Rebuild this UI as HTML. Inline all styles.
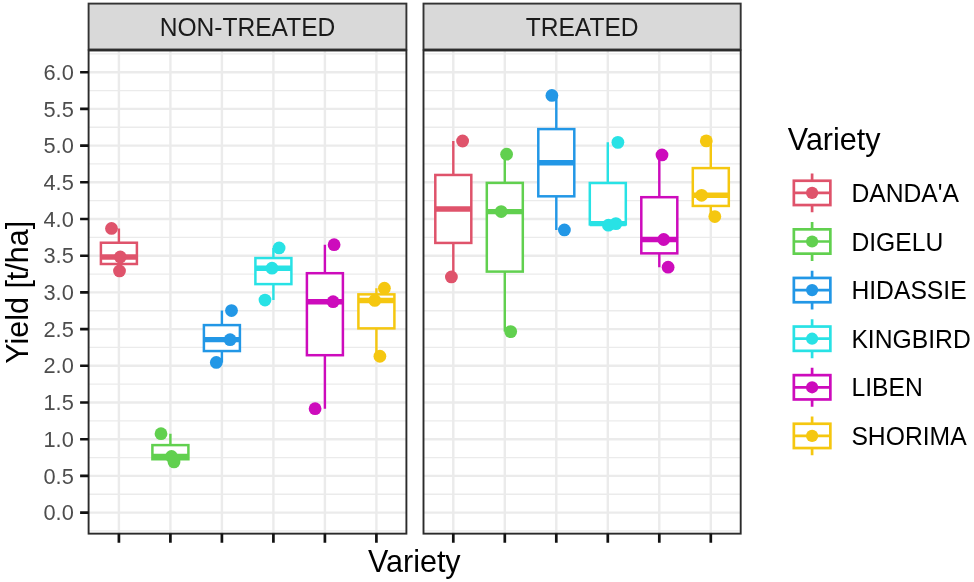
<!DOCTYPE html>
<html><head><meta charset="utf-8"><title>Yield boxplot</title>
<style>html,body{margin:0;padding:0;background:#fff;}body{width:974px;height:582px;overflow:hidden;font-family:"Liberation Sans",sans-serif;}svg{display:block;will-change:transform;}</style>
</head><body>
<svg width="974" height="582" viewBox="0 0 974 582">
<rect x="0" y="0" width="974" height="582" fill="#ffffff"/>
<rect x="88.6" y="3.6" width="317.8" height="45.9" fill="#d9d9d9" stroke="#333333" stroke-width="1.9"/>
<rect x="88.6" y="50.5" width="317.8" height="483.15" fill="#ffffff"/>
<path d="M88.6 530.95H406.4M88.6 494.25H406.4M88.6 457.55H406.4M88.6 420.85H406.4M88.6 384.15H406.4M88.6 347.45H406.4M88.6 310.75H406.4M88.6 274.05H406.4M88.6 237.35H406.4M88.6 200.65H406.4M88.6 163.95H406.4M88.6 127.25H406.4M88.6 90.55H406.4M88.6 53.85H406.4" stroke="#ebebeb" stroke-width="1.3" fill="none"/>
<path d="M88.6 512.6H406.4M88.6 475.9H406.4M88.6 439.2H406.4M88.6 402.5H406.4M88.6 365.8H406.4M88.6 329.1H406.4M88.6 292.4H406.4M88.6 255.7H406.4M88.6 219H406.4M88.6 182.3H406.4M88.6 145.6H406.4M88.6 108.9H406.4M88.6 72.2H406.4M118.9 50.5V533.65M170.4 50.5V533.65M221.9 50.5V533.65M273.4 50.5V533.65M324.9 50.5V533.65M376.4 50.5V533.65" stroke="#ebebeb" stroke-width="2.4" fill="none"/>
<g stroke="#DF536B" fill="none">
<path d="M118.9 228.47V242.74M118.9 263.99V270.97" stroke-width="2.4"/>
<rect x="100.9" y="242.74" width="36" height="21.25" fill="#ffffff" stroke-width="2.5"/>
<path d="M100.9 257.02H136.9" stroke-width="5.4"/>
</g>
<g stroke="#61D04F" fill="none">
<path d="M170.4 433.7V445.11M170.4 459.24V461.95" stroke-width="2.4"/>
<rect x="152.4" y="445.11" width="36" height="14.13" fill="#ffffff" stroke-width="2.5"/>
<path d="M152.4 456.52H188.4" stroke-width="5.4"/>
</g>
<g stroke="#2297E6" fill="none">
<path d="M221.9 310.53V325.1M221.9 351.05V362.42" stroke-width="2.4"/>
<rect x="203.9" y="325.1" width="36" height="25.95" fill="#ffffff" stroke-width="2.5"/>
<path d="M203.9 339.67H239.9" stroke-width="5.4"/>
</g>
<g stroke="#28E2E5" fill="none">
<path d="M273.4 247.92V258.05M273.4 284.11V300.03" stroke-width="2.4"/>
<rect x="255.4" y="258.05" width="36" height="26.06" fill="#ffffff" stroke-width="2.5"/>
<path d="M255.4 268.18H291.4" stroke-width="5.4"/>
</g>
<g stroke="#CD0BBC" fill="none">
<path d="M324.9 244.69V273.21M324.9 355.19V408.67" stroke-width="2.4"/>
<rect x="306.9" y="273.21" width="36" height="81.99" fill="#ffffff" stroke-width="2.5"/>
<path d="M306.9 301.72H342.9" stroke-width="5.4"/>
</g>
<g stroke="#F5C710" fill="none">
<path d="M376.4 288.22V294.35M376.4 328.37V356.26" stroke-width="2.4"/>
<rect x="358.4" y="294.35" width="36" height="34.02" fill="#ffffff" stroke-width="2.5"/>
<path d="M358.4 300.47H394.4" stroke-width="5.4"/>
</g>
<circle cx="111.5" cy="228.47" r="6.4" fill="#DF536B"/>
<circle cx="120.3" cy="257.02" r="6.4" fill="#DF536B"/>
<circle cx="119.5" cy="270.97" r="6.4" fill="#DF536B"/>
<circle cx="161" cy="433.7" r="6.4" fill="#61D04F"/>
<circle cx="171.5" cy="456.52" r="6.4" fill="#61D04F"/>
<circle cx="174" cy="461.95" r="6.4" fill="#61D04F"/>
<circle cx="231.5" cy="310.53" r="6.4" fill="#2297E6"/>
<circle cx="230.1" cy="339.67" r="6.4" fill="#2297E6"/>
<circle cx="216.3" cy="362.42" r="6.4" fill="#2297E6"/>
<circle cx="279.1" cy="247.92" r="6.4" fill="#28E2E5"/>
<circle cx="272" cy="268.18" r="6.4" fill="#28E2E5"/>
<circle cx="265" cy="300.03" r="6.4" fill="#28E2E5"/>
<circle cx="334.1" cy="244.69" r="6.4" fill="#CD0BBC"/>
<circle cx="333.1" cy="301.72" r="6.4" fill="#CD0BBC"/>
<circle cx="315.1" cy="408.67" r="6.4" fill="#CD0BBC"/>
<circle cx="384.4" cy="288.22" r="6.4" fill="#F5C710"/>
<circle cx="374.8" cy="300.47" r="6.4" fill="#F5C710"/>
<circle cx="379.9" cy="356.26" r="6.4" fill="#F5C710"/>
<rect x="88.6" y="50.5" width="317.8" height="483.15" fill="none" stroke="#2b2b2b" stroke-width="1.9"/>
<path d="M118.9 533.65V542.65M170.4 533.65V542.65M221.9 533.65V542.65M273.4 533.65V542.65M324.9 533.65V542.65M376.4 533.65V542.65" stroke="#111111" stroke-width="2.7" fill="none"/>
<rect x="423.5" y="3.6" width="317.2" height="45.9" fill="#d9d9d9" stroke="#333333" stroke-width="1.9"/>
<rect x="423.5" y="50.5" width="317.2" height="483.15" fill="#ffffff"/>
<path d="M423.5 530.95H740.7M423.5 494.25H740.7M423.5 457.55H740.7M423.5 420.85H740.7M423.5 384.15H740.7M423.5 347.45H740.7M423.5 310.75H740.7M423.5 274.05H740.7M423.5 237.35H740.7M423.5 200.65H740.7M423.5 163.95H740.7M423.5 127.25H740.7M423.5 90.55H740.7M423.5 53.85H740.7" stroke="#ebebeb" stroke-width="1.3" fill="none"/>
<path d="M423.5 512.6H740.7M423.5 475.9H740.7M423.5 439.2H740.7M423.5 402.5H740.7M423.5 365.8H740.7M423.5 329.1H740.7M423.5 292.4H740.7M423.5 255.7H740.7M423.5 219H740.7M423.5 182.3H740.7M423.5 145.6H740.7M423.5 108.9H740.7M423.5 72.2H740.7M453.3 50.5V533.65M504.8 50.5V533.65M556.3 50.5V533.65M607.8 50.5V533.65M659.3 50.5V533.65M710.8 50.5V533.65" stroke="#ebebeb" stroke-width="2.4" fill="none"/>
<g stroke="#DF536B" fill="none">
<path d="M453.3 140.98V174.96M453.3 242.93V276.91" stroke-width="2.4"/>
<rect x="435.3" y="174.96" width="36" height="67.97" fill="#ffffff" stroke-width="2.5"/>
<path d="M435.3 208.94H471.3" stroke-width="5.4"/>
</g>
<g stroke="#61D04F" fill="none">
<path d="M504.8 154.19V182.89M504.8 271.59V331.6" stroke-width="2.4"/>
<rect x="486.8" y="182.89" width="36" height="88.7" fill="#ffffff" stroke-width="2.5"/>
<path d="M486.8 211.59H522.8" stroke-width="5.4"/>
</g>
<g stroke="#2297E6" fill="none">
<path d="M556.3 95.47V129.09M556.3 196.32V229.94" stroke-width="2.4"/>
<rect x="538.3" y="129.09" width="36" height="67.23" fill="#ffffff" stroke-width="2.5"/>
<path d="M538.3 162.7H574.3" stroke-width="5.4"/>
</g>
<g stroke="#28E2E5" fill="none">
<path d="M607.8 142.37V183M607.8 224.39V225.17" stroke-width="2.4"/>
<rect x="589.8" y="183" width="36" height="41.4" fill="#ffffff" stroke-width="2.5"/>
<path d="M589.8 223.62H625.8" stroke-width="5.4"/>
</g>
<g stroke="#CD0BBC" fill="none">
<path d="M659.3 154.92V197.2M659.3 253.35V267.22" stroke-width="2.4"/>
<rect x="641.3" y="197.2" width="36" height="56.15" fill="#ffffff" stroke-width="2.5"/>
<path d="M641.3 239.48H677.3" stroke-width="5.4"/>
</g>
<g stroke="#F5C710" fill="none">
<path d="M710.8 140.9V168.1M710.8 205.93V216.58" stroke-width="2.4"/>
<rect x="692.8" y="168.1" width="36" height="37.84" fill="#ffffff" stroke-width="2.5"/>
<path d="M692.8 195.29H728.8" stroke-width="5.4"/>
</g>
<circle cx="462.6" cy="140.98" r="6.4" fill="#DF536B"/>
<circle cx="451.4" cy="276.91" r="6.4" fill="#DF536B"/>
<circle cx="506.6" cy="154.19" r="6.4" fill="#61D04F"/>
<circle cx="501.2" cy="211.59" r="6.4" fill="#61D04F"/>
<circle cx="510.7" cy="331.6" r="6.4" fill="#61D04F"/>
<circle cx="551.9" cy="95.47" r="6.4" fill="#2297E6"/>
<circle cx="564.4" cy="229.94" r="6.4" fill="#2297E6"/>
<circle cx="617.9" cy="142.37" r="6.4" fill="#28E2E5"/>
<circle cx="608.4" cy="225.17" r="6.4" fill="#28E2E5"/>
<circle cx="615.9" cy="223.62" r="6.4" fill="#28E2E5"/>
<circle cx="662" cy="154.92" r="6.4" fill="#CD0BBC"/>
<circle cx="663.7" cy="239.48" r="6.4" fill="#CD0BBC"/>
<circle cx="668.1" cy="267.22" r="6.4" fill="#CD0BBC"/>
<circle cx="706.3" cy="140.9" r="6.4" fill="#F5C710"/>
<circle cx="701.6" cy="195.29" r="6.4" fill="#F5C710"/>
<circle cx="714.8" cy="216.58" r="6.4" fill="#F5C710"/>
<rect x="423.5" y="50.5" width="317.2" height="483.15" fill="none" stroke="#2b2b2b" stroke-width="1.9"/>
<path d="M453.3 533.65V542.65M504.8 533.65V542.65M556.3 533.65V542.65M607.8 533.65V542.65M659.3 533.65V542.65M710.8 533.65V542.65" stroke="#111111" stroke-width="2.7" fill="none"/>
<path d="M80.1 512.6H88.6M80.1 475.9H88.6M80.1 439.2H88.6M80.1 402.5H88.6M80.1 365.8H88.6M80.1 329.1H88.6M80.1 292.4H88.6M80.1 255.7H88.6M80.1 219H88.6M80.1 182.3H88.6M80.1 145.6H88.6M80.1 108.9H88.6M80.1 72.2H88.6" stroke="#111111" stroke-width="2.6" fill="none"/>
<g font-family="Liberation Sans, sans-serif" font-size="21.8" fill="#4d4d4d" text-anchor="end">
<text transform="translate(73.8 520.2)">0.0</text>
<text transform="translate(73.8 483.5)">0.5</text>
<text transform="translate(73.8 446.8)">1.0</text>
<text transform="translate(73.8 410.1)">1.5</text>
<text transform="translate(73.8 373.4)">2.0</text>
<text transform="translate(73.8 336.7)">2.5</text>
<text transform="translate(73.8 300)">3.0</text>
<text transform="translate(73.8 263.3)">3.5</text>
<text transform="translate(73.8 226.6)">4.0</text>
<text transform="translate(73.8 189.9)">4.5</text>
<text transform="translate(73.8 153.2)">5.0</text>
<text transform="translate(73.8 116.5)">5.5</text>
<text transform="translate(73.8 79.8)">6.0</text>
</g>
<g font-family="Liberation Sans, sans-serif" font-size="24.6" fill="#1a1a1a" text-anchor="middle">
<text transform="translate(247.5 35.6) scale(1 1.04)">NON-TREATED</text>
<text transform="translate(582.1 35.6) scale(1 1.04)">TREATED</text>
</g>
<g font-family="Liberation Sans, sans-serif" font-size="30.5" fill="#000000">
<text x="414.3" y="572.2" text-anchor="middle">Variety</text>
<text transform="translate(28.2 292.3) rotate(-90)" text-anchor="middle">Yield [t/ha]</text>
<text x="787.8" y="150.4">Variety</text>
</g>
<g font-family="Liberation Sans, sans-serif" font-size="24.7" fill="#000000">
<text transform="translate(851.4 201.9) scale(1 1.045)">DANDA&#39;A</text>
<text transform="translate(851.4 250.5) scale(1 1.045)">DIGELU</text>
<text transform="translate(851.4 299.1) scale(1 1.045)">HIDASSIE</text>
<text transform="translate(851.4 347.7) scale(1 1.045)">KINGBIRD</text>
<text transform="translate(851.4 396.3) scale(1 1.045)">LIBEN</text>
<text transform="translate(851.4 444.9) scale(1 1.045)">SHORIMA</text>
</g>
<g stroke="#DF536B" fill="none" stroke-width="2.7">
<path d="M812.1 173.45V180.75M812.1 205.05V212.35"/>
<rect x="793.85" y="180.75" width="36.5" height="24.3" fill="#ffffff"/>
<path d="M793.85 192.9H830.35"/>
</g>
<circle cx="812.1" cy="192.9" r="6.1" fill="#DF536B"/>
<g stroke="#61D04F" fill="none" stroke-width="2.7">
<path d="M812.1 222.05V229.35M812.1 253.65V260.95"/>
<rect x="793.85" y="229.35" width="36.5" height="24.3" fill="#ffffff"/>
<path d="M793.85 241.5H830.35"/>
</g>
<circle cx="812.1" cy="241.5" r="6.1" fill="#61D04F"/>
<g stroke="#2297E6" fill="none" stroke-width="2.7">
<path d="M812.1 270.65V277.95M812.1 302.25V309.55"/>
<rect x="793.85" y="277.95" width="36.5" height="24.3" fill="#ffffff"/>
<path d="M793.85 290.1H830.35"/>
</g>
<circle cx="812.1" cy="290.1" r="6.1" fill="#2297E6"/>
<g stroke="#28E2E5" fill="none" stroke-width="2.7">
<path d="M812.1 319.25V326.55M812.1 350.85V358.15"/>
<rect x="793.85" y="326.55" width="36.5" height="24.3" fill="#ffffff"/>
<path d="M793.85 338.7H830.35"/>
</g>
<circle cx="812.1" cy="338.7" r="6.1" fill="#28E2E5"/>
<g stroke="#CD0BBC" fill="none" stroke-width="2.7">
<path d="M812.1 367.85V375.15M812.1 399.45V406.75"/>
<rect x="793.85" y="375.15" width="36.5" height="24.3" fill="#ffffff"/>
<path d="M793.85 387.3H830.35"/>
</g>
<circle cx="812.1" cy="387.3" r="6.1" fill="#CD0BBC"/>
<g stroke="#F5C710" fill="none" stroke-width="2.7">
<path d="M812.1 416.45V423.75M812.1 448.05V455.35"/>
<rect x="793.85" y="423.75" width="36.5" height="24.3" fill="#ffffff"/>
<path d="M793.85 435.9H830.35"/>
</g>
<circle cx="812.1" cy="435.9" r="6.1" fill="#F5C710"/>
</svg>
</body></html>
